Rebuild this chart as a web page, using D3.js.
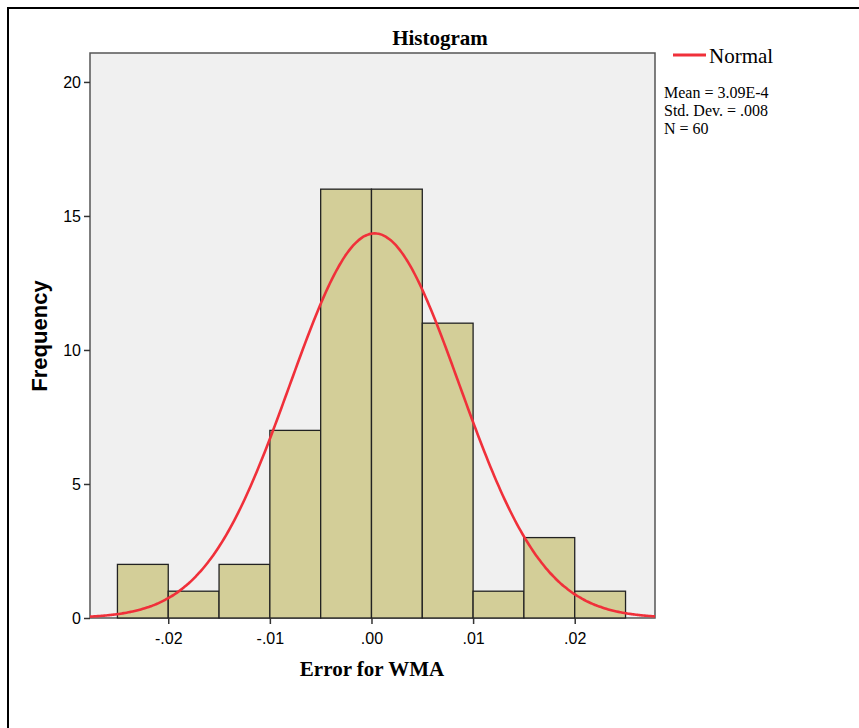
<html><head>
<meta charset="utf-8">
<title>Histogram: Error for WMA</title>
<script src="https://d3js.org/d3.v7.min.js"></script>
<style>
  body { margin: 0; background: #fff; }
  svg text { fill: #000; }
</style>
</head>
<body>
<svg id="chart" width="859" height="728"></svg>
<script>
// bins of width .005 from -.025 to .025
const binEdges = [-0.025, -0.02, -0.015, -0.01, -0.005, 0, 0.005, 0.01, 0.015, 0.02, 0.025];
const counts = [2, 1, 2, 7, 16, 16, 11, 1, 3, 1];
const xTicks = [-0.02, -0.01, 0, 0.01, 0.02];
const xTickLabels = ["-.02", "-.01", ".00", ".01", ".02"];
const yTicks = [0, 5, 10, 15, 20];
const statLines = ["Mean = 3.09E-4", "Std. Dev. = .008", "N = 60"];
const mean = 0.000309, sd = 0.00834, n = 60, binW = 0.005;

const SANS = "Arial, 'Liberation Sans', sans-serif";
const SERIF = "'Liberation Serif', 'DejaVu Serif', serif";

const svg = d3.select("#chart");

// outer frame (runs off the right/bottom edge)
svg.append("path")
  .attr("d", "M8,740 L8,8 L870,8")
  .attr("fill", "none").attr("stroke", "#000").attr("stroke-width", 2);

const plotL = 90, plotT = 53, plotR = 655, plotB = 618;
const x = d3.scaleLinear().domain([-0.0277, 0.0279]).range([plotL, plotR]);
const y = d3.scaleLinear().domain([0, 21.08]).range([plotB, plotT]);

svg.append("rect")
  .attr("x", plotL).attr("y", plotT)
  .attr("width", plotR - plotL).attr("height", plotB - plotT)
  .attr("fill", "#f0f0f0").attr("stroke", "#555").attr("stroke-width", 1.5);

// bars
svg.append("g").selectAll("rect").data(counts).join("rect")
  .attr("x", (d, i) => x(binEdges[i]))
  .attr("y", d => y(d))
  .attr("width", (d, i) => x(binEdges[i + 1]) - x(binEdges[i]))
  .attr("height", d => y(0) - y(d))
  .attr("fill", "#d3ce98")
  .attr("stroke", "#222").attr("stroke-width", 1.3);

// normal curve
const xs = d3.range(x.domain()[0], x.domain()[1] + 1e-9, 0.0002);
const pdf = v => n * binW / (sd * Math.sqrt(2 * Math.PI)) * Math.exp(-0.5 * ((v - mean) / sd) ** 2);
svg.append("path")
  .datum(xs)
  .attr("d", d3.line().x(d => x(d)).y(d => y(pdf(d))).curve(d3.curveBasis))
  .attr("fill", "none").attr("stroke", "#f0303a").attr("stroke-width", 2.6);

// axes
const xAxis = svg.append("g").attr("transform", `translate(0,${plotB})`)
  .call(d3.axisBottom(x).tickValues(xTicks).tickFormat((d, i) => xTickLabels[i]).tickSize(6).tickSizeOuter(0));
const yAxis = svg.append("g").attr("transform", `translate(${plotL},0)`)
  .call(d3.axisLeft(y).tickValues(yTicks).tickSize(6).tickSizeOuter(0).tickPadding(3));
[xAxis, yAxis].forEach(a => {
  a.attr("font-family", SANS).attr("font-size", 16);
  a.select(".domain").remove();
  a.selectAll("line").attr("stroke", "#333").attr("stroke-width", 1.5);
  a.selectAll("text").attr("fill", "#000");
});
xAxis.selectAll("text").attr("y", 26).attr("dy", 0);

// titles
svg.append("text")
  .attr("x", 440).attr("y", 45).attr("text-anchor", "middle")
  .attr("font-family", SERIF).attr("font-size", 21).attr("font-weight", "bold").text("Histogram");
svg.append("text")
  .attr("x", 372).attr("y", 676).attr("text-anchor", "middle")
  .attr("font-family", SERIF).attr("font-size", 21).attr("font-weight", "bold").text("Error for WMA");
svg.append("text")
  .attr("transform", "translate(47,336) rotate(-90)")
  .attr("text-anchor", "middle")
  .attr("font-family", SANS).attr("font-size", 22).attr("font-weight", "bold").text("Frequency");

// legend
svg.append("line").attr("x1", 673).attr("x2", 706).attr("y1", 55).attr("y2", 55)
  .attr("stroke", "#f0303a").attr("stroke-width", 3);
svg.append("text").attr("x", 709).attr("y", 63)
  .attr("font-family", SERIF).attr("font-size", 21).text("Normal");
svg.append("g").selectAll("text").data(statLines).join("text")
  .attr("x", 664).attr("y", (d, i) => 98 + i * 18)
  .attr("font-family", SERIF).attr("font-size", 16).text(d => d);
</script>
</body></html>
